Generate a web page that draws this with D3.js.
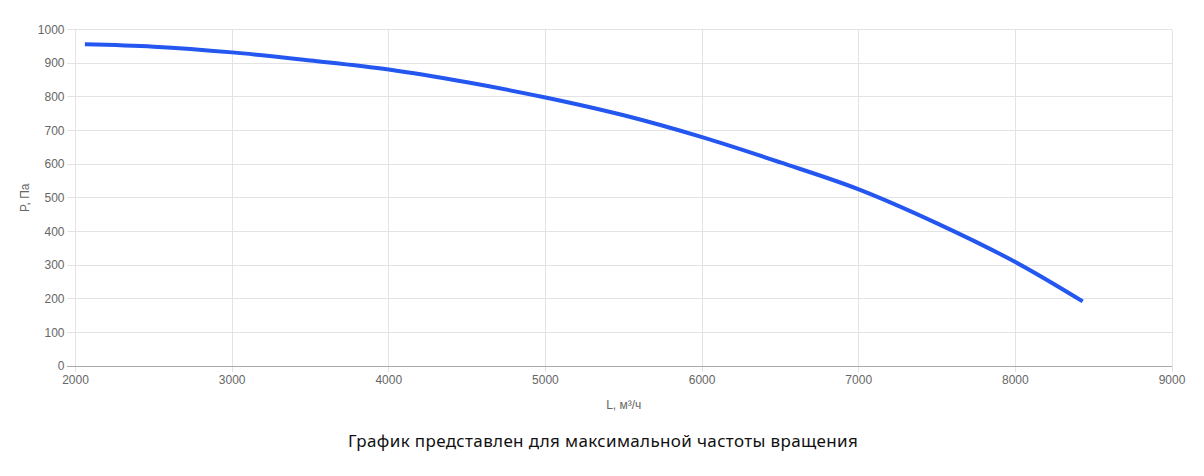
<!DOCTYPE html>
<html><head><meta charset="utf-8">
<script src="https://cdn.jsdelivr.net/npm/d3@7"></script>
<style>body{margin:0;background:#fff}svg{display:block}</style>
</head><body>
<svg id="c" width="1204" height="476"></svg>
<script>
const flowValues = [2060, 2500, 3000, 3500, 4000, 4500, 5000, 5500, 6000, 6500, 7000, 7500, 8000, 8430];
const pressureValues = [956, 949, 932, 908, 881, 843, 798, 745, 680, 605, 525, 424, 309, 192];
const xTicks = [2000, 3000, 4000, 5000, 6000, 7000, 8000, 9000];
const yTicks = [0, 100, 200, 300, 400, 500, 600, 700, 800, 900, 1000];
const xLabel = "L, м³/ч";
const yLabel = "P, Па";
const caption = "График представлен для максимальной частоты вращения";

const svg = d3.select("#c");
const x = d3.scaleLinear().domain([2000, 9000]).range([75.5, 1172]);
const y = d3.scaleLinear().domain([0, 1000]).range([366, 29.5]);
const font = "'Liberation Sans', Arial, sans-serif";

// grid
svg.append("g").selectAll("line").data(xTicks).join("line")
  .attr("x1", d => x(d)).attr("x2", d => x(d)).attr("y1", y(1000)).attr("y2", y(0) + 6)
  .attr("stroke", "#e3e3e3").attr("stroke-width", 1).attr("shape-rendering", "crispEdges");
svg.append("g").selectAll("line").data(yTicks).join("line")
  .attr("x1", x(2000) - 9).attr("x2", x(9000)).attr("y1", d => y(d)).attr("y2", d => y(d))
  .attr("stroke", d => d === 0 ? "#aaa" : "#e3e3e3").attr("stroke-width", 1).attr("shape-rendering", "crispEdges");

// axes labels
svg.append("g").selectAll("text").data(yTicks).join("text")
  .attr("x", x(2000) - 11).attr("y", d => y(d)).attr("dy", "0.35em")
  .attr("text-anchor", "end").attr("font-family", font).attr("font-size", 12).attr("fill", "#666")
  .text(d => d);
svg.append("g").selectAll("text").data(xTicks).join("text")
  .attr("x", d => x(d)).attr("y", y(0) + 18)
  .attr("text-anchor", "middle").attr("font-family", font).attr("font-size", 12).attr("fill", "#666")
  .text(d => d);

svg.append("text").attr("transform", `translate(29,${(y(0)+y(1000))/2}) rotate(-90)`)
  .attr("text-anchor", "middle").attr("font-family", font).attr("font-size", 12).attr("fill", "#666")
  .text(yLabel);
svg.append("text").attr("x", (x(2000)+x(9000))/2).attr("y", 409)
  .attr("text-anchor", "middle").attr("font-family", font).attr("font-size", 12).attr("fill", "#666")
  .text(xLabel);

// line
const line = d3.line().x((d, i) => x(flowValues[i])).y(d => y(d)).curve(d3.curveCatmullRom);
svg.append("path").datum(pressureValues).attr("d", line)
  .attr("fill", "none").attr("stroke", "#2456f0").attr("stroke-width", 4)
  .attr("stroke-linejoin", "round");

svg.append("text").attr("x", 603).attr("y", 447).attr("text-anchor", "middle")
  .attr("font-family", "'Noto Sans', sans-serif").attr("font-size", 17).attr("fill", "#111")
  .attr("letter-spacing", "0.35px")
  .text(caption);
</script>
</body></html>
